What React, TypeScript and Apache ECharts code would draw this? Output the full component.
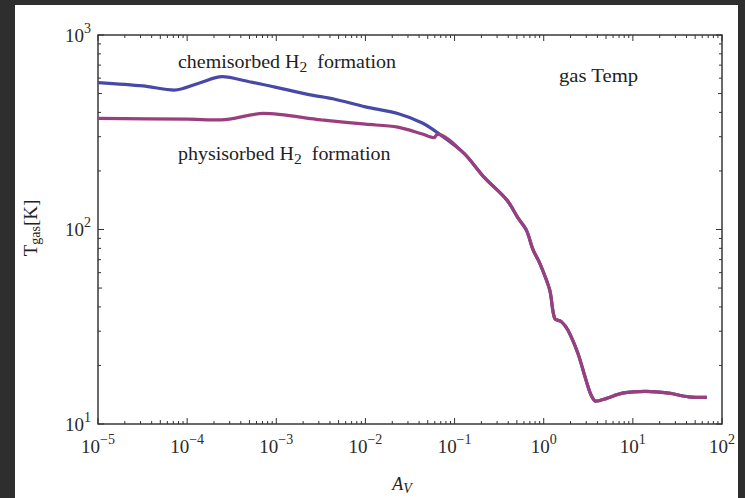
import React, { useEffect, useRef } from 'react';
import * as echarts from 'echarts';

// ---- data ----
const AV_CHEM = [1e-5, 3.2e-5, 7.2e-5, 1.35e-4, 2.46e-4, 5e-4, 1e-3, 2.4e-3, 4.3e-3, 1e-2, 2.3e-2, 4.35e-2, 6.4e-2, 0.127, 0.211, 0.385, 0.519, 0.641, 0.76, 0.904, 1.167, 1.327, 1.574, 1.866, 2.415, 2.985, 3.396, 3.855, 4.99, 7.64, 13.9, 25.3, 42.2, 67.5];
const T_CHEM = [569, 547, 521, 565, 611, 575, 538, 492, 470, 427, 395, 353, 315, 247, 187, 142, 114, 99, 78.5, 67, 48.9, 34.9, 33.6, 30.4, 23.1, 16.8, 14.1, 13.1, 13.5, 14.4, 14.7, 14.4, 13.8, 13.7];

const AV_PHYS = [1e-5, 1e-4, 2.4e-4, 7.2e-4, 3.2e-3, 1e-2, 2.3e-2, 4.35e-2, 5.9e-2, 6.4e-2, 0.127, 0.211, 0.385, 0.519, 0.641, 0.76, 0.904, 1.167, 1.327, 1.574, 1.866, 2.415, 2.985, 3.396, 3.855, 4.99, 7.64, 13.9, 25.3, 42.2, 67.5];
const T_PHYS = [373, 369, 366, 395, 366, 348, 336, 310, 297, 309, 247, 187, 142, 114, 99, 78.5, 67, 48.9, 34.9, 33.6, 30.4, 23.1, 16.8, 14.1, 13.1, 13.5, 14.4, 14.7, 14.4, 13.8, 13.7];

const X_MIN = 1e-5;
const X_MAX = 1e2;
const Y_MIN = 10;
const Y_MAX = 1000;
const X_DECADES = [-5, -4, -3, -2, -1, 0, 1, 2];
const Y_DECADES = [1, 2, 3];
const MINOR_MULTIPLIERS = [2, 3, 4, 5, 6, 7, 8, 9];

const LABEL_CHEM = 'chemisorbed H';
const LABEL_PHYS = 'physisorbed H';
const LABEL_GAS = 'gas Temp';

const FONT = '"Liberation Serif", "Times New Roman", serif';
const INK = '#2a2a2a';

function tickValues(decades: number[]) {
  const out: number[][] = [];
  decades.forEach((d, i) => {
    out.push([Math.pow(10, d), 6]);
    if (i < decades.length - 1) {
      MINOR_MULTIPLIERS.forEach((m) => out.push([m * Math.pow(10, d), m === 5 ? 4 : 3]));
    }
  });
  return out;
}

function expLabel(v: number) {
  const e = Math.round(Math.log10(v));
  const s = e < 0 ? '\u2212' + -e : String(e);
  return `{b|10}{s|${s}}`;
}

const richTick = {
  b: { fontFamily: FONT, fontSize: 19, color: INK },
  s: { fontFamily: FONT, fontSize: 14, color: INK, padding: [0, 0, 14, 0] },
};

export default function App() {
  const ref = useRef<HTMLDivElement>(null);
  useEffect(() => {
    if (!ref.current) return;
    const chart = echarts.init(ref.current, undefined, { renderer: 'svg' });
    const xTicks = tickValues(X_DECADES).map(([v, len]) => [v, Y_MIN, len]);
    const yTicks = tickValues(Y_DECADES).map(([v, len]) => [X_MIN, v, len]);
    const tickStyle = { stroke: '#333', lineWidth: 1 };
    const sub = { fontFamily: FONT, fontSize: 14, fill: '#222', color: '#222', padding: [10, 0, 0, 0] };
    chart.setOption({
      animation: false,
      backgroundColor: '#ffffff',
      grid: {
        left: 83, top: 30, right: 11, bottom: 74,
        show: true, borderColor: '#3a3a3a', borderWidth: 1.5, backgroundColor: 'transparent',
      },
      xAxis: {
        type: 'log', logBase: 10, min: X_MIN, max: X_MAX,
        axisLine: { show: false },
        axisTick: { show: false },
        splitLine: { show: false },
        axisLabel: { formatter: expLabel, rich: richTick, margin: 8 },
      },
      yAxis: {
        type: 'log', logBase: 10, min: Y_MIN, max: Y_MAX,
        axisLine: { show: false },
        axisTick: { show: false },
        splitLine: { show: false },
        axisLabel: { formatter: expLabel, rich: richTick, margin: 7 },
      },
      series: [
        {
          name: 'chemisorbed', type: 'line', data: AV_CHEM.map((x, i) => [x, T_CHEM[i]]),
          showSymbol: false, smooth: 0.3, lineStyle: { color: '#4848a6', width: 3.2 }, z: 3,
        },
        {
          name: 'physisorbed', type: 'line', data: AV_PHYS.map((x, i) => [x, T_PHYS[i]]),
          showSymbol: false, smooth: 0.3, lineStyle: { color: '#9a3f7e', width: 3.2 }, z: 4,
        },
        {
          type: 'custom', data: xTicks, encode: { x: 0, y: 1 }, silent: true, clip: false, z: 5,
          renderItem: (_p: any, api: any) => {
            const v = api.value(0);
            const len = api.value(2);
            const b = api.coord([v, Y_MIN]);
            const t = api.coord([v, Y_MAX]);
            return {
              type: 'group',
              children: [
                { type: 'line', shape: { x1: b[0], y1: b[1], x2: b[0], y2: b[1] - len }, style: tickStyle },
                { type: 'line', shape: { x1: t[0], y1: t[1], x2: t[0], y2: t[1] + len }, style: tickStyle },
              ],
            };
          },
        },
        {
          type: 'custom', data: yTicks, encode: { x: 0, y: 1 }, silent: true, clip: false, z: 5,
          renderItem: (_p: any, api: any) => {
            const v = api.value(1);
            const len = api.value(2);
            const l = api.coord([X_MIN, v]);
            const r = api.coord([X_MAX, v]);
            return {
              type: 'group',
              children: [
                { type: 'line', shape: { x1: l[0], y1: l[1], x2: l[0] + len, y2: l[1] }, style: tickStyle },
                { type: 'line', shape: { x1: r[0], y1: r[1], x2: r[0] - len, y2: r[1] }, style: tickStyle },
              ],
            };
          },
        },
      ],
      graphic: [
        {
          type: 'text', x: 163, y: 57, scaleX: 1.11,
          style: {
            text: `{a|${LABEL_CHEM}}{s|2}{a|  formation}`,
            textAlign: 'left', align: 'left', textVerticalAlign: 'middle', verticalAlign: 'middle',
            rich: {
              a: { fontFamily: FONT, fontSize: 18, fill: '#222', color: '#222' },
              s: sub,
            },
          },
        },
        {
          type: 'text', x: 163, y: 149, scaleX: 1.11,
          style: {
            text: `{a|${LABEL_PHYS}}{s|2}{a|  formation}`,
            textAlign: 'left', align: 'left', textVerticalAlign: 'middle', verticalAlign: 'middle',
            rich: {
              a: { fontFamily: FONT, fontSize: 18, fill: '#222', color: '#222' },
              s: sub,
            },
          },
        },
        {
          type: 'text', x: 544, y: 71, scaleX: 1.15,
          style: {
            text: LABEL_GAS, fontFamily: FONT, fontSize: 18, fill: '#222',
            textAlign: 'left', align: 'left', textVerticalAlign: 'middle', verticalAlign: 'middle',
          },
        },
        {
          type: 'text', x: 15, y: 223, rotation: Math.PI / 2,
          style: {
            text: '{t|T}{s|gas}{t|[K]}',
            textAlign: 'center', align: 'center', textVerticalAlign: 'middle', verticalAlign: 'middle',
            rich: {
              t: { fontFamily: FONT, fontSize: 19, fill: '#222', color: '#222' },
              s: { fontFamily: FONT, fontSize: 14, fill: '#222', color: '#222', padding: [10, 0, 0, 0] },
            },
          },
        },
        {
          type: 'text', x: 387, y: 479,
          style: {
            text: '{t|A}{s|V}',
            textAlign: 'center', align: 'center', textVerticalAlign: 'middle', verticalAlign: 'middle',
            rich: {
              t: { fontFamily: FONT, fontSize: 18, fontStyle: 'italic', fill: '#222', color: '#222' },
              s: { fontFamily: FONT, fontSize: 14, fontStyle: 'italic', fill: '#222', color: '#222', padding: [8, 0, 0, 0] },
            },
          },
        },
      ],
    });
    return () => chart.dispose();
  }, []);

  return (
    <div style={{ position: 'fixed', left: 0, top: 0, width: 745, height: 498, background: '#2e2e2e', overflow: 'hidden' }}>
      <div style={{ position: 'absolute', left: 15, top: 5, width: 723, height: 493, background: '#ffffff' }}>
        <div ref={ref} style={{ width: 723, height: 493 }} />
      </div>
    </div>
  );
}
